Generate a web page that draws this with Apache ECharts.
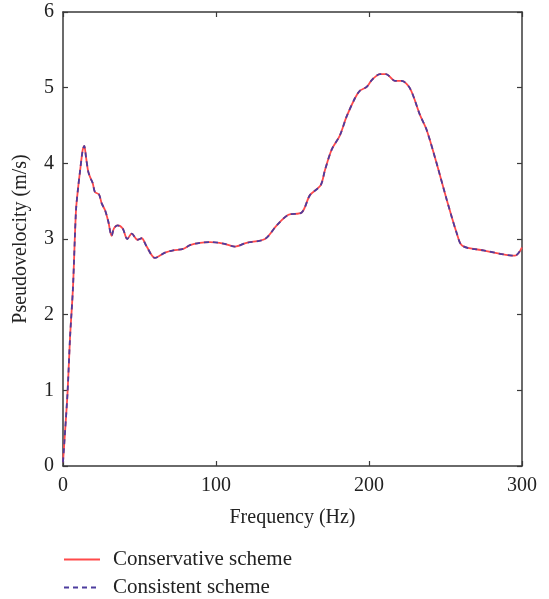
<!DOCTYPE html>
<html>
<head>
<meta charset="utf-8">
<script src="https://cdn.jsdelivr.net/npm/echarts@6/dist/echarts.min.js"></script>
<style>
  html, body { margin: 0; padding: 0; background: #fff; }
  #chart { width: 549px; height: 599px; }
</style>
</head>
<body>
<div id="chart"></div>
<script>
// Pseudovelocity response spectrum, two mass-matrix schemes
const frequency = [0, 1.5, 3, 4.6, 6.5, 8.5, 10, 11.1, 12.9, 13.9, 15, 16.5, 18.1, 19.4, 20.9, 23.5, 25.3, 27.5, 29.6, 31.8, 33.3, 35.7, 39, 42, 44.9, 48.6, 51.4, 54.7, 60.1, 66.7, 72.1, 78.6, 83, 89.5, 96, 104.8, 112.4, 120, 132, 139.7, 147.3, 156, 161.4, 168.4, 171.2, 175.6, 181, 185.4, 190.8, 194.1, 198.5, 201.8, 207.2, 211.1, 217, 221.4, 226.8, 233.3, 237.7, 244.2, 250.8, 257.3, 261, 274.7, 295.4, 300];

const conservative = [0.05, 0.5, 0.98, 1.7, 2.35, 3.38, 3.7, 3.89, 4.18, 4.23, 4.09, 3.89, 3.80, 3.74, 3.62, 3.59, 3.47, 3.38, 3.23, 3.04, 3.14, 3.18, 3.14, 3.0, 3.07, 2.99, 3.01, 2.90, 2.75, 2.82, 2.85, 2.87, 2.92, 2.95, 2.96, 2.94, 2.90, 2.95, 3.0, 3.18, 3.32, 3.35, 3.58, 3.71, 3.91, 4.18, 4.37, 4.62, 4.86, 4.96, 5.01, 5.10, 5.18, 5.18, 5.09, 5.09, 4.99, 4.64, 4.44, 4.0, 3.52, 3.08, 2.91, 2.85, 2.78, 2.89];

const consistent = [0.05, 0.5, 0.98, 1.7, 2.35, 3.38, 3.7, 3.89, 4.18, 4.23, 4.09, 3.89, 3.80, 3.74, 3.62, 3.59, 3.47, 3.38, 3.23, 3.04, 3.14, 3.18, 3.14, 3.0, 3.07, 2.99, 3.01, 2.90, 2.75, 2.82, 2.85, 2.87, 2.92, 2.95, 2.96, 2.94, 2.90, 2.95, 3.0, 3.18, 3.32, 3.35, 3.58, 3.71, 3.91, 4.18, 4.37, 4.62, 4.86, 4.96, 5.01, 5.10, 5.18, 5.18, 5.09, 5.09, 4.99, 4.64, 4.44, 4.0, 3.52, 3.08, 2.91, 2.85, 2.78, 2.89];

const seriesNames = ['Conservative scheme', 'Consistent scheme'];

const FONT = '"Liberation Serif", "DejaVu Serif", serif';
const AXIS_COLOR = '#3a3a3a';
const TEXT_COLOR = '#222';

const pairs = (xs, ys) => xs.map((x, i) => [x, ys[i]]);

const frameAxis = (extra) => Object.assign({
  axisLine: { show: true, onZero: false, lineStyle: { color: AXIS_COLOR, width: 1.5 } },
  axisTick: { show: true, inside: true, length: 5, lineStyle: { color: AXIS_COLOR, width: 1.2 } },
  splitLine: { show: false }
}, extra);

// one legend block per row so the entries stack; the marker dot is hidden
const legendRow = (name, top) => ({
  show: true,
  orient: 'vertical',
  left: 58,
  top: top,
  itemWidth: 36,
  itemHeight: 10,
  itemGap: 8,
  itemStyle: { opacity: 0 },
  textStyle: { fontFamily: FONT, fontSize: 21, color: TEXT_COLOR, padding: [0, 0, 0, 8] },
  data: [name]
});

const chart = echarts.init(document.getElementById('chart'), null, { renderer: 'canvas' });

chart.setOption({
  animation: false,
  backgroundColor: '#ffffff',
  textStyle: { fontFamily: FONT },
  grid: { left: 63, right: 27, top: 12, bottom: 133 },
  legend: [legendRow(seriesNames[0], 544), legendRow(seriesNames[1], 572)],
  xAxis: [
    frameAxis({
      type: 'value', position: 'bottom', min: 0, max: 300, interval: 100,
      name: 'Frequency (Hz)', nameLocation: 'middle', nameGap: 42,
      nameTextStyle: { fontFamily: FONT, fontSize: 20, color: TEXT_COLOR },
      axisLabel: { fontFamily: FONT, fontSize: 20, color: TEXT_COLOR, margin: 10 }
    }),
    frameAxis({
      type: 'value', position: 'top', min: 0, max: 300, interval: 100,
      axisLabel: { show: false }
    })
  ],
  yAxis: [
    frameAxis({
      type: 'value', position: 'left', min: 0, max: 6, interval: 1,
      name: 'Pseudovelocity (m/s)', nameLocation: 'middle', nameGap: 32,
      nameTextStyle: { fontFamily: FONT, fontSize: 20, color: TEXT_COLOR },
      axisLabel: { fontFamily: FONT, fontSize: 20, color: TEXT_COLOR, margin: 9 }
    }),
    frameAxis({
      type: 'value', position: 'right', min: 0, max: 6, interval: 1,
      axisLabel: { show: false }
    })
  ],
  series: [
    {
      name: seriesNames[0],
      type: 'line',
      xAxisIndex: 0, yAxisIndex: 0,
      data: pairs(frequency, conservative),
      symbol: 'none',
      smooth: 0.3,
      color: '#ff4a4a',
      lineStyle: { color: '#ff4a4a', width: 1.8, type: 'solid' }
    },
    {
      name: seriesNames[1],
      type: 'line',
      xAxisIndex: 0, yAxisIndex: 0,
      data: pairs(frequency, consistent),
      symbol: 'none',
      smooth: 0.3,
      color: '#4d3c9e',
      lineStyle: { color: '#4d3c9e', width: 1.8, type: [5, 4] }
    }
  ]
});
</script>
</body>
</html>
